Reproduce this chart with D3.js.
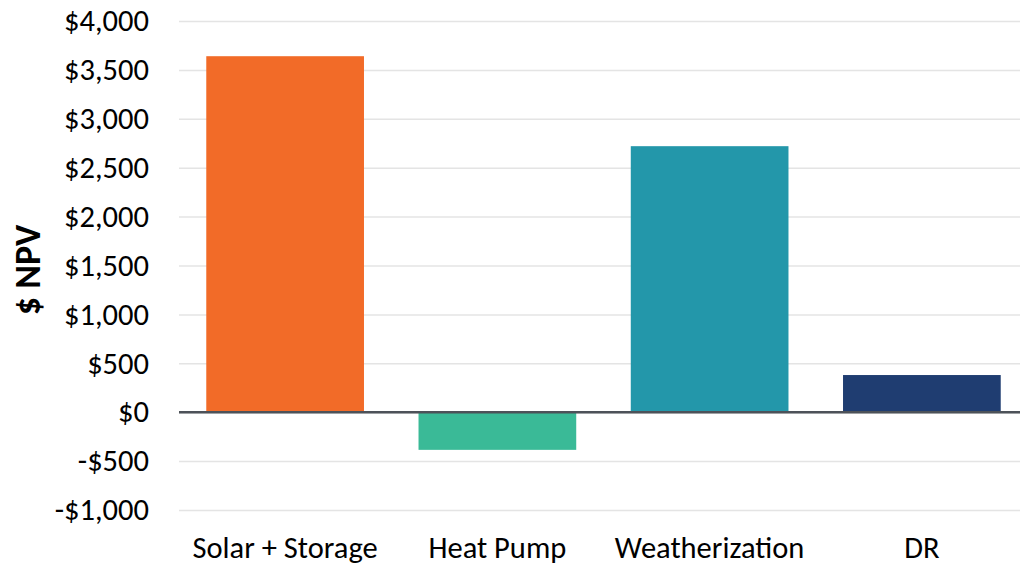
<!DOCTYPE html>
<html>
<head>
<meta charset="utf-8">
<script src="https://cdn.jsdelivr.net/npm/d3@7"></script>
<style>
  html, body { margin: 0; padding: 0; background: #fff; }
  svg text { font-family: Carlito, Calibri, "Open Sans", sans-serif; fill: #000; }
</style>
</head>
<body>
<svg id="chart" width="1020" height="566"></svg>
<script>
// Net present value by measure
const categories = ["Solar + Storage", "Heat Pump", "Weatherization", "DR"];
const npvValues = [3640, -385, 2720, 380];
const barColors = ["#F26B28", "#3ABA97", "#2397AA", "#1F3D71"];
const yTicks = [-1000, -500, 0, 500, 1000, 1500, 2000, 2500, 3000, 3500, 4000];

const svg = d3.select("#chart");
const plotLeft = 179, plotRight = 1028, plotTop = 21, plotBottom = 510;

const x = d3.scaleBand().domain(categories).range([plotLeft, plotRight]).paddingInner(0.257).paddingOuter(0.1285);
const y = d3.scaleLinear().domain([-1000, 4000]).range([plotBottom, plotTop]);

const fmt = v => (v < 0 ? "-$" : "$") + d3.format(",")(Math.abs(v));

// gridlines
svg.append("g")
  .attr("transform", `translate(${plotLeft},0)`)
  .call(d3.axisLeft(y).tickValues(yTicks).tickSize(-(plotRight - plotLeft)).tickFormat(""))
  .call(g => g.select(".domain").remove())
  .call(g => g.selectAll("line").attr("stroke", "#E4E4E4").attr("stroke-width", 1.5));

// tick labels
svg.append("g")
  .attr("transform", `translate(149,0)`)
  .call(d3.axisLeft(y).tickValues(yTicks).tickSize(0).tickPadding(0).tickFormat(fmt))
  .call(g => g.select(".domain").remove())
  .call(g => g.selectAll("text").attr("font-size", 30.5).attr("font-family", null).attr("fill", "#000"));

// bars
svg.append("g").selectAll("rect")
  .data(categories.map((c, i) => ({ c, v: npvValues[i], col: barColors[i] })))
  .join("rect")
  .attr("x", d => x(d.c))
  .attr("width", x.bandwidth())
  .attr("y", d => y(Math.max(0, d.v)))
  .attr("height", d => Math.abs(y(d.v) - y(0)))
  .attr("fill", d => d.col);

// zero line
svg.append("line")
  .attr("x1", plotLeft).attr("x2", 1020)
  .attr("y1", y(0)).attr("y2", y(0))
  .attr("stroke", "#4D5259").attr("stroke-width", 2.5);

// category labels
svg.append("g")
  .attr("transform", `translate(0,${plotBottom})`)
  .call(d3.axisBottom(x).tickSize(0).tickPadding(0))
  .call(g => g.select(".domain").remove())
  .call(g => g.selectAll("text").attr("font-size", 30.5).attr("font-family", null).attr("dy", null).attr("y", 48).attr("fill", "#000"));

// y axis title
svg.append("text")
  .attr("transform", `translate(40,270) rotate(-90)`)
  .attr("text-anchor", "middle")
  .attr("font-size", 36)
  .attr("font-weight", "bold")
  .text("$ NPV");
</script>
</body>
</html>
